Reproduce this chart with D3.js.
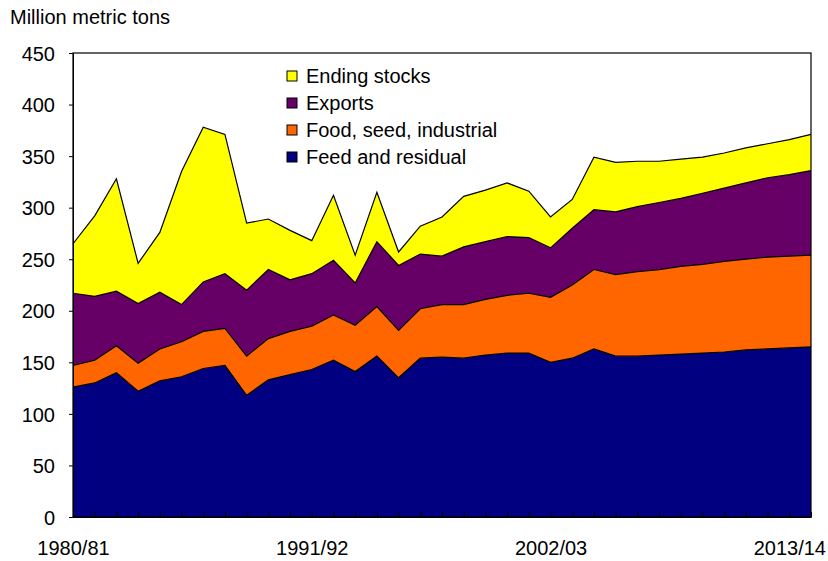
<!DOCTYPE html>
<meta charset="utf-8">
<style>
body { margin: 0; background: #fff; }
text { font-family: "Liberation Sans", Arial, sans-serif; fill: #000; }
.axis path, .axis line { stroke: #000; }
.axis text { font-size: 20px; }
.edge { fill: none; stroke: #000; stroke-width: 1.2px; }
</style>
<svg width="828" height="561"></svg>
<script src="https://cdn.jsdelivr.net/npm/d3@7"></script>
<script>

// marketing years, 1980/81 through 2014/15
var years = ["1980/81","1981/82","1982/83","1983/84","1984/85","1985/86","1986/87","1987/88",
  "1988/89","1989/90","1990/91","1991/92","1992/93","1993/94","1994/95","1995/96","1996/97",
  "1997/98","1998/99","1999/00","2000/01","2001/02","2002/03","2003/04","2004/05","2005/06",
  "2006/07","2007/08","2008/09","2009/10","2010/11","2011/12","2012/13","2013/14","2014/15"];

// million metric tons
var feed    = [126,130,140,122,132,136,144,147,118,133,138,143,152,141,156,135,154,155,154,157,159,159,150,154,163,156,156,157,158,159,160,162,163,164,165];
var food    = [21,22,26,27,31,34,36,36,38,40,42,42,44,45,48,46,48,51,52,54,56,58,63,71,77,79,82,83,85,86,88,88,89,89,89];
var exports = [70,62,53,58,55,36,48,53,64,67,50,51,53,41,63,63,53,47,56,56,57,54,48,55,58,61,63,65,66,69,71,74,77,79,82];
var stocks  = [48,78,109,39,58,129,150,135,65,49,48,32,63,27,48,13,27,38,49,50,52,45,30,28,51,48,44,40,38,35,34,34,33,34,35];

var yTicks = [0,50,100,150,200,250,300,350,400,450];
var labelYears = ["1980/81","1991/92","2002/03","2013/14"];

var keys = ["feed","food","exports","stocks"];
var names = {feed: "Feed and residual", food: "Food, seed, industrial", exports: "Exports", stocks: "Ending stocks"};
var colors = {feed: "#000080", food: "#ff6600", exports: "#660066", stocks: "#ffff00"};

var svg = d3.select("svg"),
    margin = {top: 53, right: 17, bottom: 44, left: 73},
    width = svg.attr("width") - margin.left - margin.right,
    height = svg.attr("height") - margin.top - margin.bottom,
    g = svg.append("g").attr("transform", "translate(" + margin.left + "," + margin.top + ")");

var rows = years.map(function(yr, i) {
  return {year: yr, feed: feed[i], food: food[i], exports: exports[i], stocks: stocks[i]};
});

var x = d3.scalePoint().domain(years).range([0, width]),
    y = d3.scaleLinear().domain([0, 450]).range([height, 0]);

var series = d3.stack().keys(keys)(rows);

var area = d3.area()
    .x(function(d) { return x(d.data.year); })
    .y0(function(d) { return y(d[0]); })
    .y1(function(d) { return y(d[1]); });

var edge = d3.line()
    .x(function(d) { return x(d.data.year); })
    .y(function(d) { return y(d[1]); });

g.selectAll(".layer")
  .data(series)
  .enter().append("path")
    .attr("class", "layer")
    .attr("d", area)
    .style("fill", function(d) { return colors[d.key]; });

g.selectAll(".edge")
  .data(series)
  .enter().append("path")
    .attr("class", "edge")
    .attr("d", edge);

// plot frame
g.append("rect")
    .attr("width", width)
    .attr("height", height)
    .attr("fill", "none")
    .attr("stroke", "#000")
    .attr("stroke-width", 1.2);

g.append("g")
    .attr("class", "axis")
    .call(d3.axisLeft(y).tickValues(yTicks).tickSize(4).tickPadding(14))
    .call(function(s) { s.selectAll("text").attr("dy", "0.36em"); });

g.append("g")
    .attr("class", "axis")
    .attr("transform", "translate(0," + height + ")")
    .call(d3.axisBottom(x)
      .tickSizeInner(-5).tickSizeOuter(0).tickPadding(24)
      .tickFormat(function(d) { return labelYears.indexOf(d) >= 0 ? d : ""; }));

svg.append("text")
    .attr("x", 10)
    .attr("y", 24)
    .style("font-size", "20px")
    .text("Million metric tons");

var legend = svg.append("g").attr("transform", "translate(287,71)");
var item = legend.selectAll(".item")
  .data(keys.slice().reverse())
  .enter().append("g")
    .attr("class", "item")
    .attr("transform", function(d, i) { return "translate(0," + i * 27 + ")"; });

item.append("rect")
    .attr("width", 10)
    .attr("height", 10)
    .attr("stroke", "#000")
    .attr("fill", function(d) { return colors[d]; });

item.append("text")
    .attr("x", 19)
    .attr("y", 5)
    .attr("dy", "0.36em")
    .style("font-size", "20px")
    .text(function(d) { return names[d]; });

</script>
